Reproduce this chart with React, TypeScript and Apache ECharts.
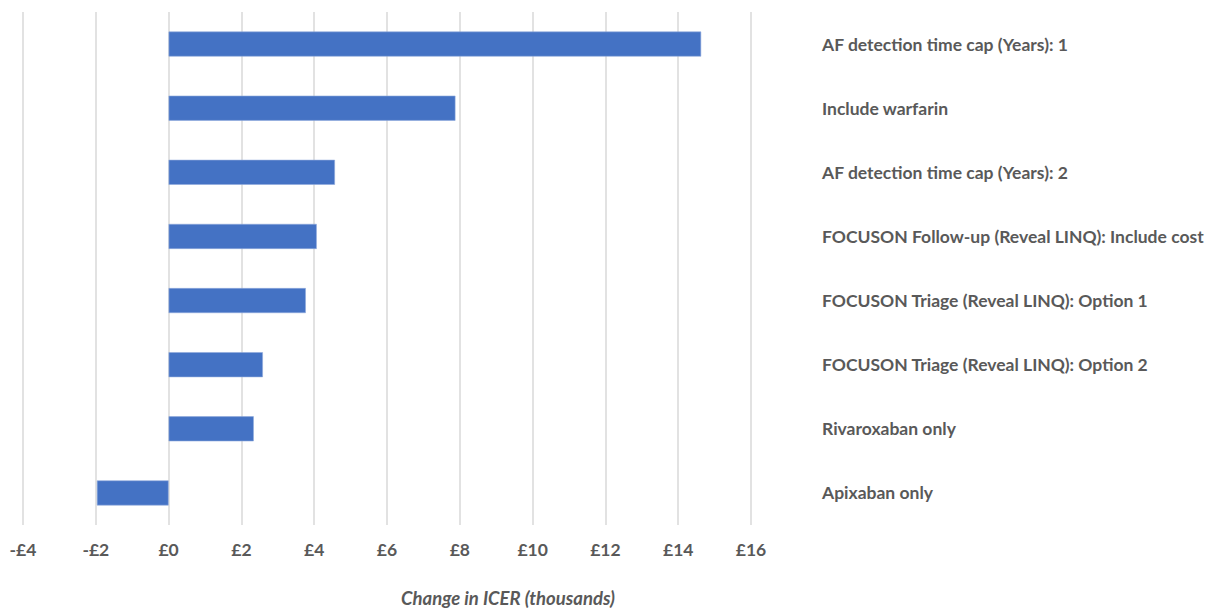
import React, { useEffect, useRef } from "react";
import * as echarts from "echarts";

const categories = [
  "AF detection time cap (Years): 1",
  "Include warfarin",
  "AF detection time cap (Years): 2",
  "FOCUSON Follow-up (Reveal LINQ): Include cost",
  "FOCUSON Triage (Reveal LINQ): Option 1",
  "FOCUSON Triage (Reveal LINQ): Option 2",
  "Rivaroxaban only",
  "Apixaban only",
];
const values = [14.63, 7.88, 4.57, 4.07, 3.77, 2.59, 2.34, -1.97];
const axisTitle = "Change in ICER (thousands)";

const FONT = "Lato, 'Open Sans', sans-serif";
const TEXT = "#595959";

export default function App() {
  const ref = useRef<HTMLDivElement>(null);
  useEffect(() => {
    if (!ref.current) return;
    const chart = echarts.init(ref.current, null, { renderer: "svg" });
    chart.setOption({
      animation: false,
      backgroundColor: "#ffffff",
      grid: { left: 23, right: 464, top: 12, bottom: 85, containLabel: false },
      xAxis: {
        type: "value",
        min: -4,
        max: 16,
        interval: 2,
        axisLine: { show: false },
        axisTick: { show: false },
        splitLine: { show: true, lineStyle: { color: "#D9D9D9", width: 1.5 } },
        axisLabel: {
          color: TEXT,
          fontFamily: FONT,
          fontWeight: "bold",
          fontSize: 17.5,
          margin: 15,
          formatter: (v: number) => (v < 0 ? "-£" + Math.abs(v) : "£" + v),
        },
      },
      yAxis: {
        type: "category",
        data: categories,
        inverse: true,
        position: "right",
        axisLine: { show: false },
        axisTick: { show: false },
        splitLine: { show: false },
        axisLabel: {
          color: TEXT,
          fontFamily: FONT,
          fontWeight: "bold",
          fontSize: 17.5,
          align: "left",
          margin: 71,
        },
      },
      series: [
        {
          type: "bar",
          data: values,
          barWidth: 25,
          itemStyle: { color: "#4472C4", borderColor: "#8FAADC", borderWidth: 0.6 },
        },
      ],
      graphic: [
        {
          type: "text",
          x: 508,
          y: 598,
          style: {
            text: axisTitle,
            fill: TEXT,
            font: `italic bold 18.5px ${FONT}`,
            textAlign: "center",
            textVerticalAlign: "middle",
          },
        },
      ],
    });
    return () => chart.dispose();
  }, []);
  return (
    <div
      ref={ref}
      style={{ position: "fixed", left: 0, top: 0, width: 1215, height: 610 }}
    />
  );
}
